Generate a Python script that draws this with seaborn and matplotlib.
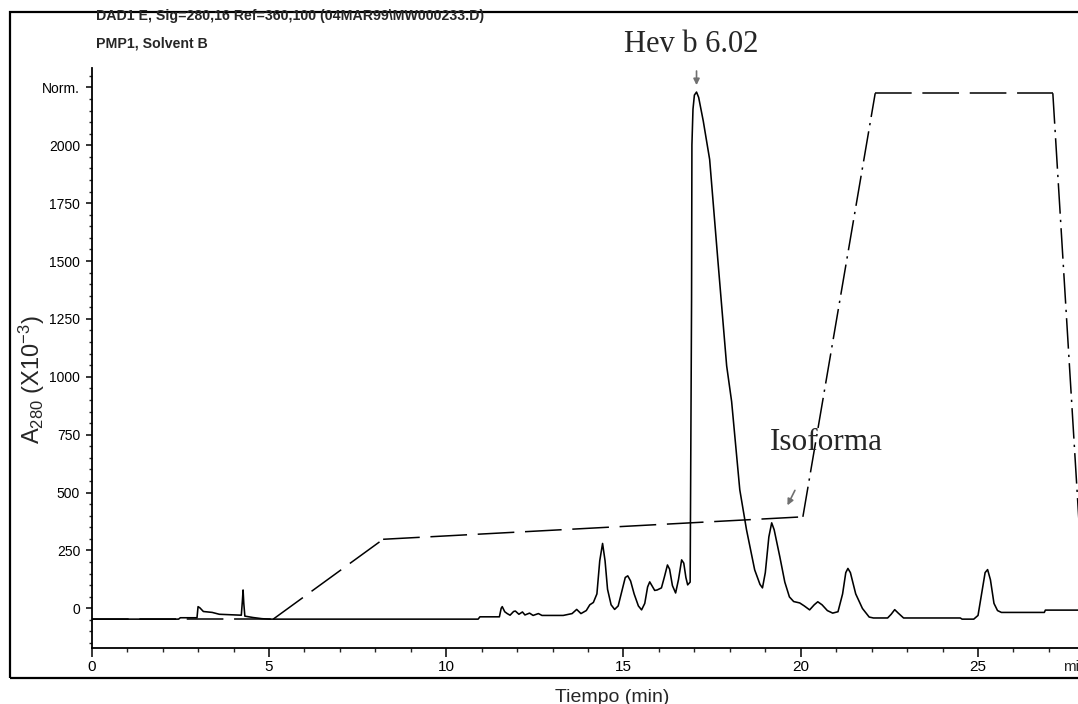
import matplotlib
matplotlib.use("Agg")
import matplotlib.pyplot as plt
import matplotlib.transforms as mtransforms
from matplotlib.patches import Rectangle
from matplotlib.ticker import MultipleLocator, FixedLocator
import numpy as np
import pandas as pd
import seaborn as sns

# ---------------- data ----------------
chrom_time = [0.0, 2.45, 2.5, 2.97, 3.0, 3.05, 3.15, 3.4, 3.6, 4.22, 4.25, 4.27, 4.29, 4.32,
              4.55, 4.8, 5.0, 10.9, 10.95, 11.5, 11.55, 11.58, 11.65, 11.72, 11.8, 11.9,
              11.95, 12.05, 12.15, 12.22, 12.35, 12.45, 12.6, 12.7, 13.0, 13.3, 13.55,
              13.68, 13.8, 13.95, 14.05, 14.15, 14.25, 14.33, 14.41, 14.48, 14.55, 14.65,
              14.75, 14.85, 14.95, 15.05, 15.12, 15.2, 15.3, 15.42, 15.51, 15.6, 15.68,
              15.74, 15.8, 15.88, 15.95, 16.07, 16.15, 16.24, 16.3, 16.38, 16.47, 16.55,
              16.64, 16.7, 16.76, 16.81, 16.88, 16.92, 16.93, 16.96, 17.0, 17.06, 17.12,
              17.25, 17.43, 17.66, 17.91, 18.05, 18.28, 18.47, 18.7, 18.85, 18.92, 19.0,
              19.1, 19.18, 19.25, 19.41, 19.55, 19.68, 19.8, 19.97, 20.1, 20.25, 20.38,
              20.48, 20.6, 20.75, 20.9, 21.05, 21.18, 21.27, 21.33, 21.4, 21.55, 21.74,
              21.93, 22.05, 22.45, 22.55, 22.65, 22.75, 22.9, 24.5, 24.55, 24.88, 25.0,
              25.1, 25.2, 25.27, 25.35, 25.45, 25.55, 25.66, 26.87, 26.9, 27.82]
chrom_signal = [-47, -47, -41, -41, 7, 2, -14, -18, -26, -30, 31, 79, 21, -34,
                -40, -45, -47, -47, -37, -37, 0, 7, -15, -23, -30, -14,
                -12, -26, -16, -29, -21, -31, -23, -31, -31, -31, -23,
                -5, -23, -10, 15, 25, 62, 205, 280, 205, 82, 15,
                -5, 10, 72, 133, 140, 118, 62, 10, -7, 21, 92,
                114, 98, 77, 79, 88, 133, 187, 169, 98, 66, 123,
                209, 195, 133, 101, 113, 1335, 2002, 2156, 2217, 2230, 2207,
                2105, 1939, 1507, 1047, 893, 512, 339, 166, 103, 88, 154,
                308, 369, 339, 222, 113, 49, 29, 23, 10, -7, 15,
                28, 15, -10, -21, -15, 62, 154, 172, 154, 62, -1,
                -38, -42, -42, -26, -6, -21, -42, -42, -47, -47, -31,
                62, 154, 167, 123, 21, -10, -18, -18, -8, -8]

# solvent B gradient (pump program)
grad_time = [0.0, 5.12, 8.22, 20.06, 22.1, 27.11, 28.0]
grad_value = [-47, -47, 298, 395, 2225, 2225, -10]
grad_style = ["dash", "dash", "dash", "dashdot", "dash", "dashdot"]  # style of each segment

x_major = [0, 5, 10, 15, 20, 25]
y_major = [0, 250, 500, 750, 1000, 1250, 1500, 1750, 2000, 2250]
y_labels = ["0", "250", "500", "750", "1000", "1250", "1500", "1750", "2000", "Norm."]

header1 = "DAD1 E, Sig=280,16 Ref=360,100 (04MAR99\\MW000233.D)"
header2 = "PMP1, Solvent B"

# ---------------- style ----------------
sns.set_style("white")
plt.rcParams["font.family"] = ["Liberation Sans", "DejaVu Sans"]
plt.rcParams["mathtext.fontset"] = "custom"
plt.rcParams["mathtext.rm"] = "Liberation Sans"
plt.rcParams["mathtext.it"] = "Liberation Sans:italic"
plt.rcParams["mathtext.bf"] = "Liberation Sans:bold"

W, H = 1078, 704
fig = plt.figure(figsize=(W / 100, H / 100), dpi=100)
fig.patch.set_facecolor("white")

ax_l, ax_r, ax_t, ax_b = 91.7, 1078, 68, 648
ax = fig.add_axes([ax_l / W, 1 - ax_b / H, (ax_r - ax_l) / W, (ax_b - ax_t) / H])
ax.set_facecolor("white")

chrom = pd.DataFrame({"t": chrom_time, "v": chrom_signal})
sns.lineplot(data=chrom, x="t", y="v", sort=False, estimator=None,
             color="black", lw=1.15, ax=ax)

dash_map = {"dash": (0, (24, 7)), "dashdot": (0, (20, 4, 1.5, 4))}
for i, st in enumerate(grad_style):
    seg = pd.DataFrame({"t": grad_time[i:i + 2], "v": grad_value[i:i + 2]})
    sns.lineplot(data=seg, x="t", y="v", sort=False, estimator=None,
                 color="black", lw=1.1, ax=ax, linestyle=dash_map[st])

ax.set_xlim(0, 27.82)
ax.set_ylim(-171.7, 2334)
ax.set_xlabel("")
ax.set_ylabel("")
for s in ["top", "right"]:
    ax.spines[s].set_visible(False)
for s in ["left", "bottom"]:
    ax.spines[s].set_color("black")
    ax.spines[s].set_linewidth(1.3)

ax.xaxis.set_major_locator(FixedLocator(x_major))
ax.xaxis.set_minor_locator(MultipleLocator(1))
ax.set_xticklabels([str(v) for v in x_major])
ax.yaxis.set_major_locator(FixedLocator(y_major))
ax.yaxis.set_minor_locator(MultipleLocator(50))
ax.set_yticklabels(y_labels)

ax.tick_params(axis="x", which="major", direction="out", length=6.5, width=1.1,
               pad=2, labelsize=11, colors="black", bottom=True)
ax.tick_params(axis="x", which="minor", direction="out", length=3, width=1.0, bottom=True)
ax.tick_params(axis="y", which="major", direction="out", length=4, width=1.1,
               pad=4.3, labelsize=10, colors="black", left=True)
ax.tick_params(axis="y", which="minor", direction="out", length=2.5, width=1.0, left=True)

trans = mtransforms.blended_transform_factory(ax.transData, ax.transAxes)
ax.text(27.39, -12 / 580, "min", transform=trans, ha="left", va="top",
        fontsize=11, clip_on=False)

# arrows
ax.annotate("", xy=(17.06, 2248), xytext=(17.06, 2333),
            arrowprops=dict(arrowstyle="-|>", color="#707070", lw=1.2, mutation_scale=9),
            annotation_clip=False)
ax.annotate("", xy=(19.59, 434), xytext=(19.87, 520),
            arrowprops=dict(arrowstyle="-|>", color="#707070", lw=1.2, mutation_scale=9),
            annotation_clip=False)

# texts
fig.text(691 / W, 1 - 45 / H, "Hev b 6.02", family=["Liberation Serif"], fontsize=22,
         ha="center", va="center")
fig.text(826 / W, 1 - 442 / H, "Isoforma", family=["Liberation Serif"], fontsize=22.5,
         ha="center", va="center")
fig.text(96 / W, 1 - 16 / H, header1, fontsize=10.2, fontweight="bold",
         ha="left", va="center")
fig.text(96 / W, 1 - 43 / H, header2, fontsize=10.2, fontweight="bold",
         ha="left", va="center")
fig.text(32 / W, 1 - 380 / H, r"A$_{\mathregular{280}}$ (X10$^{\mathregular{-3}}$)",
         fontsize=17, rotation=90, ha="center", va="center")
fig.text(612 / W, 1 - 697 / H, "Tiempo (min)", fontsize=14, ha="center", va="center")

# outer frame
fig.add_artist(Rectangle((10 / W, 1 - 678 / H), 1.2, (678 - 12) / H, fill=False,
                         lw=1.6, edgecolor="black", transform=fig.transFigure,
                         clip_on=False))

fig.savefig("out.png", dpi=100, facecolor="white")
